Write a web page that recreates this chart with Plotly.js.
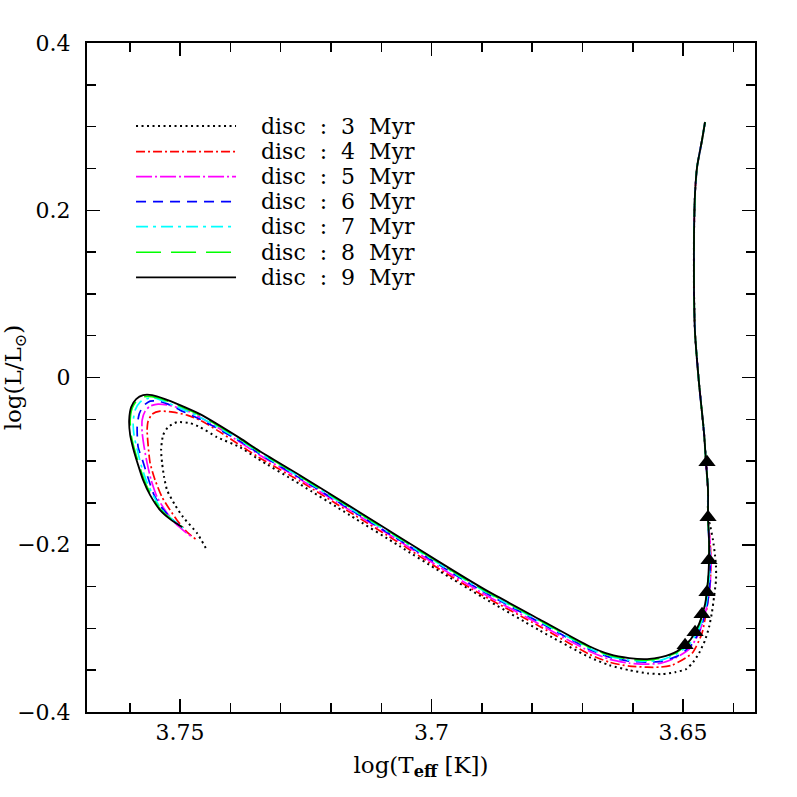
<!DOCTYPE html>
<html>
<head>
<meta charset="utf-8">
<script src="https://cdn.plot.ly/plotly-3.0.1.min.js"></script>
<style>html,body{margin:0;padding:0;background:#fff;}#plot{width:797px;height:797px;}</style>
</head>
<body>
<div id="plot"></div>
<script>
// Shared Hayashi-track segment (common to all disc lifetimes)
const hayT = [3.64563, 3.64623, 3.64722, 3.64762, 3.64782, 3.64782, 3.64762, 3.64683, 3.64583, 3.64544, 3.64504, 3.64504];
const hayL = [0.3055, 0.2840, 0.2517, 0.2206, 0.1727, 0.1010, 0.0531, -0.0067, -0.0665, -0.1012, -0.1347, -0.1670];

// disc : 3 Myr
const T3 = [3.64464, 3.64405, 3.64365, 3.64345, 3.64345, 3.64385, 3.64425, 3.64484, 3.64563, 3.64683, 3.64802, 3.64940, 3.65159, 3.65417, 3.65714, 3.66071, 3.66468, 3.66865, 3.67857, 3.68988, 3.69841, 3.70635, 3.71627, 3.72619, 3.73472, 3.73810, 3.74266, 3.74603, 3.74802, 3.75060, 3.75238, 3.75337, 3.75377, 3.75357, 3.75317, 3.75258, 3.75099, 3.74940, 3.74663, 3.74464];
const L3 = [-0.1766, -0.1945, -0.2125, -0.2268, -0.2423, -0.2627, -0.2806, -0.2986, -0.3141, -0.3297, -0.3404, -0.3488, -0.3524, -0.3548, -0.3536, -0.3500, -0.3440, -0.3344, -0.3022, -0.2627, -0.2316, -0.2017, -0.1646, -0.1275, -0.0965, -0.0833, -0.0713, -0.0593, -0.0546, -0.0534, -0.0593, -0.0689, -0.0869, -0.1024, -0.1191, -0.1347, -0.1526, -0.1670, -0.1861, -0.2065];

// disc : 4 Myr
const T4 = [3.64464, 3.64444, 3.64464, 3.64524, 3.64623, 3.64821, 3.65218, 3.65476, 3.65714, 3.66071, 3.66468, 3.66865, 3.67857, 3.68988, 3.69841, 3.70635, 3.71627, 3.72619, 3.73472, 3.73810, 3.74266, 3.74603, 3.74861, 3.75139, 3.75397, 3.75556, 3.75635, 3.75655, 3.75635, 3.75595, 3.75496, 3.75357, 3.75198, 3.75060, 3.74861, 3.74663];
const L4 = [-0.1969, -0.2208, -0.2483, -0.2746, -0.3057, -0.3297, -0.3440, -0.3464, -0.3464, -0.3452, -0.3404, -0.3309, -0.2974, -0.2603, -0.2292, -0.1981, -0.1610, -0.1239, -0.0941, -0.0809, -0.0629, -0.0510, -0.0450, -0.0414, -0.0402, -0.0438, -0.0522, -0.0629, -0.0809, -0.1024, -0.1227, -0.1431, -0.1586, -0.1706, -0.1849, -0.1945];

// disc : 5 Myr
const T5 = [3.64464, 3.64444, 3.64464, 3.64544, 3.64683, 3.64881, 3.65159, 3.65437, 3.65714, 3.66071, 3.66468, 3.66865, 3.67857, 3.68988, 3.69841, 3.70635, 3.71627, 3.72619, 3.73413, 3.73810, 3.74266, 3.74603, 3.74940, 3.75238, 3.75437, 3.75595, 3.75694, 3.75754, 3.75754, 3.75714, 3.75655, 3.75575, 3.75456, 3.75298, 3.75119, 3.74940, 3.74762];
const L5 = [-0.1969, -0.2208, -0.2483, -0.2782, -0.3057, -0.3249, -0.3356, -0.3416, -0.3428, -0.3416, -0.3368, -0.3273, -0.2950, -0.2579, -0.2268, -0.1957, -0.1586, -0.1215, -0.0929, -0.0773, -0.0593, -0.0474, -0.0378, -0.0330, -0.0318, -0.0342, -0.0402, -0.0510, -0.0653, -0.0833, -0.1024, -0.1227, -0.1431, -0.1586, -0.1730, -0.1825, -0.1909];

// disc : 6 Myr
const T6 = [3.64484, 3.64464, 3.64464, 3.64524, 3.64643, 3.64821, 3.65079, 3.65417, 3.65714, 3.66071, 3.66468, 3.66865, 3.67857, 3.68988, 3.69841, 3.70635, 3.71627, 3.72619, 3.73413, 3.73810, 3.74603, 3.75000, 3.75238, 3.75437, 3.75595, 3.75734, 3.75813, 3.75853, 3.75833, 3.75734, 3.75635, 3.75516, 3.75357, 3.75159, 3.74921];
const L6 = [-0.1969, -0.2196, -0.2435, -0.2734, -0.2986, -0.3189, -0.3321, -0.3392, -0.3404, -0.3392, -0.3344, -0.3249, -0.2926, -0.2555, -0.2244, -0.1945, -0.1574, -0.1203, -0.0917, -0.0761, -0.0498, -0.0390, -0.0318, -0.0282, -0.0282, -0.0342, -0.0438, -0.0593, -0.0833, -0.1012, -0.1203, -0.1407, -0.1562, -0.1694, -0.1813];

// disc : 7 Myr
const T7 = [3.64484, 3.64464, 3.64484, 3.64544, 3.64663, 3.64841, 3.65099, 3.65437, 3.65714, 3.66071, 3.66468, 3.66865, 3.67857, 3.68988, 3.69841, 3.70635, 3.71627, 3.72619, 3.73413, 3.73810, 3.74603, 3.75000, 3.75278, 3.75496, 3.75655, 3.75794, 3.75893, 3.75933, 3.75913, 3.75853, 3.75774, 3.75675, 3.75536, 3.75357, 3.75159, 3.74940];
const L7 = [-0.1957, -0.2184, -0.2423, -0.2723, -0.2974, -0.3165, -0.3297, -0.3380, -0.3392, -0.3380, -0.3333, -0.3237, -0.2914, -0.2543, -0.2232, -0.1933, -0.1562, -0.1191, -0.0905, -0.0749, -0.0474, -0.0366, -0.0294, -0.0246, -0.0252, -0.0294, -0.0390, -0.0534, -0.0701, -0.0857, -0.1048, -0.1227, -0.1407, -0.1586, -0.1694, -0.1801];

// disc : 8 Myr
const T8 = [3.64484, 3.64484, 3.64504, 3.64563, 3.64683, 3.64861, 3.65119, 3.65437, 3.65714, 3.66071, 3.66468, 3.66865, 3.67857, 3.68988, 3.69841, 3.70635, 3.71627, 3.72619, 3.73413, 3.73810, 3.74603, 3.75000, 3.75298, 3.75556, 3.75714, 3.75853, 3.75952, 3.75992, 3.75972, 3.75913, 3.75813, 3.75714, 3.75575, 3.75377, 3.75179, 3.74960];
const L8 = [-0.1945, -0.2184, -0.2423, -0.2723, -0.2962, -0.3153, -0.3285, -0.3356, -0.3380, -0.3368, -0.3321, -0.3225, -0.2902, -0.2531, -0.2220, -0.1921, -0.1550, -0.1180, -0.0893, -0.0737, -0.0450, -0.0342, -0.0270, -0.0229, -0.0229, -0.0270, -0.0366, -0.0510, -0.0689, -0.0845, -0.1048, -0.1227, -0.1407, -0.1586, -0.1694, -0.1789];

// disc : 9 Myr
const T9 = [3.64484, 3.64484, 3.64504, 3.64563, 3.64683, 3.64861, 3.65119, 3.65437, 3.65714, 3.66071, 3.66468, 3.66865, 3.67857, 3.68988, 3.69841, 3.70635, 3.71627, 3.72619, 3.73413, 3.73810, 3.74603, 3.75000, 3.75298, 3.75556, 3.75734, 3.75873, 3.75972, 3.76012, 3.75992, 3.75933, 3.75833, 3.75734, 3.75595, 3.75397, 3.75198, 3.74960];
const L9 = [-0.1945, -0.2184, -0.2423, -0.2711, -0.2950, -0.3141, -0.3273, -0.3344, -0.3368, -0.3356, -0.3309, -0.3213, -0.2890, -0.2519, -0.2208, -0.1909, -0.1538, -0.1168, -0.0881, -0.0725, -0.0438, -0.0330, -0.0258, -0.0211, -0.0211, -0.0258, -0.0354, -0.0510, -0.0689, -0.0845, -0.1048, -0.1227, -0.1407, -0.1586, -0.1694, -0.1789];

// Triangles (end of disc phase)
const triT = [3.64524, 3.64504, 3.64484, 3.64524, 3.64623, 3.64762, 3.64960];
const triL = [-0.1012, -0.1670, -0.2184, -0.2567, -0.2830, -0.3045, -0.3201];

const labels = ['disc : 3 Myr', 'disc : 4 Myr', 'disc : 5 Myr', 'disc : 6 Myr', 'disc : 7 Myr', 'disc : 8 Myr', 'disc : 9 Myr'];
const colors = ['#000000', '#ff0000', '#ff00ff', '#0000ff', '#00ffff', '#00ff00', '#000000'];
const dashes = ['2px,3.5px', '9px,3px,2px,3px', '16px,3px,2px,3px', '10px,7px', '12px,5px,3px,5px', '25px,10px', 'solid'];
const widths = [2, 1.7, 1.7, 1.7, 1.7, 1.7, 1.8];

const tracksT = [T3, T4, T5, T6, T7, T8, T9];
const tracksL = [L3, L4, L5, L6, L7, L8, L9];

const traces = tracksT.map((tt, i) => ({
  type: 'scatter', mode: 'lines', name: labels[i],
  x: hayT.concat(tt), y: hayL.concat(tracksL[i]),
  line: {color: colors[i], dash: dashes[i], width: widths[i], shape: 'spline', smoothing: 0.6},
  showlegend: false, hoverinfo: 'skip'
}));
traces.push({
  type: 'scatter', mode: 'markers', x: triT, y: triL,
  marker: {symbol: 'triangle-up', size: 15, color: '#000000'},
  showlegend: false, hoverinfo: 'skip'
});

// manual legend (long line samples as in original)
const legY = [0.8759, 0.8375, 0.8002, 0.7628, 0.7254, 0.6872, 0.6498];
const shapes = legY.map((yy, i) => ({
  type: 'line', xref: 'paper', yref: 'paper', x0: 0.0734, x1: 0.2231, y0: yy, y1: yy,
  line: {color: colors[i], dash: dashes[i], width: widths[i]}
}));
const nb = '\u00A0\u00A0';
const annotations = legY.map((yy, i) => ({
  xref: 'paper', yref: 'paper', x: 0.258, y: yy, xanchor: 'left', yanchor: 'middle',
  text: labels[i].split(' ').join(nb), showarrow: false,
  font: {family: 'DejaVu Serif', size: 22, color: '#000'}
}));

const axisCommon = {
  showline: true, linecolor: '#000', linewidth: 2, mirror: 'allticks',
  ticks: 'inside', ticklen: 13, tickwidth: 1.5, tickcolor: '#000',
  showgrid: false, zeroline: false,
  tickfont: {family: 'DejaVu Serif', size: 22, color: '#000'}
};

const layout = {
  width: 797, height: 797,
  margin: {l: 87, r: 42, t: 43, b: 85},
  paper_bgcolor: '#fff', plot_bgcolor: '#fff',
  xaxis: Object.assign({}, axisCommon, {
    range: [3.7685, 3.6357], autorange: false,
    tickmode: 'linear', tick0: 3.65, dtick: 0.05,
    minor: {dtick: 0.01, ticks: 'inside', ticklen: 9, tickwidth: 1.5, tickcolor: '#000', showgrid: false},
    ticklabelstandoff: 0,
    title: {text: 'log(T<sub><b>eff</b></sub> [K])', standoff: 12, font: {family: 'DejaVu Serif', size: 23, color: '#000'}}
  }),
  yaxis: Object.assign({}, axisCommon, {
    range: [-0.4, 0.4], autorange: false,
    tickmode: 'linear', tick0: 0, dtick: 0.2,
    minor: {dtick: 0.05, ticks: 'inside', ticklen: 9, tickwidth: 1.5, tickcolor: '#000', showgrid: false},
    ticklabelstandoff: 10,
    title: {text: 'log(L/L<sub>⊙</sub>)', standoff: 2, font: {family: 'DejaVu Serif', size: 23, color: '#000'}}
  }),
  shapes: shapes,
  annotations: annotations
};

Plotly.newPlot('plot', traces, layout, {displayModeBar: false, staticPlot: true});
</script>
</body>
</html>
